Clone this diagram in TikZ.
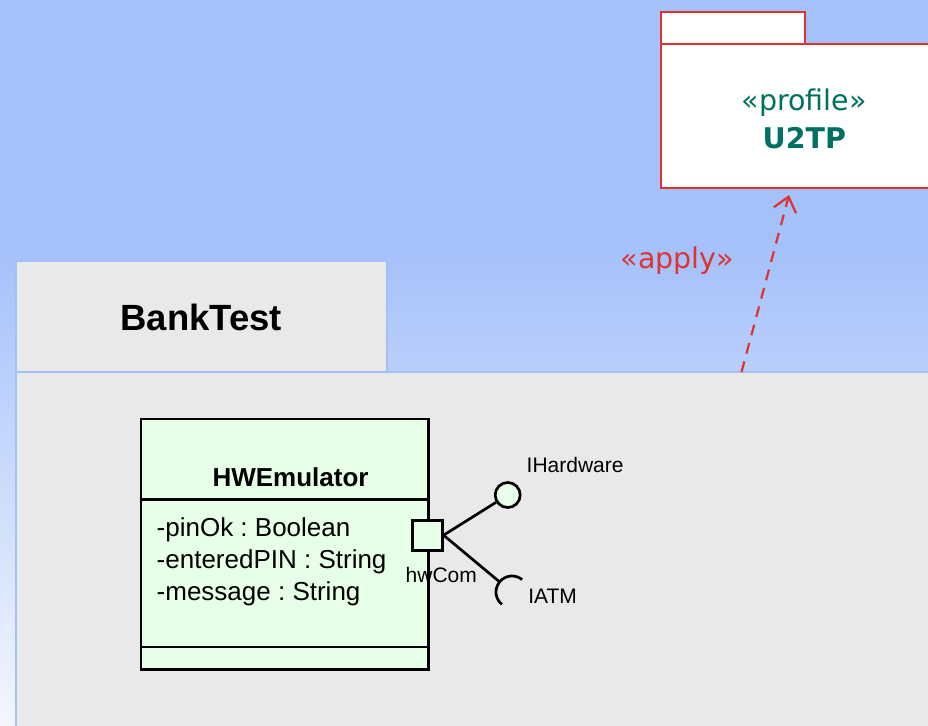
\documentclass[tikz,border=0pt]{standalone}
\usepackage{fontspec}
\setmainfont{Liberation Sans}
\newfontfamily\profilefont{DejaVu Sans}
\usetikzlibrary{arrows.meta}
\frenchspacing

\definecolor{bgtop}{RGB}{165,193,250}
\definecolor{bgbot}{RGB}{243,246,255}
\definecolor{pkggray}{RGB}{233,233,233}
\definecolor{pkgedge}{RGB}{163,192,248}
\definecolor{classgreen}{RGB}{230,255,230}
\definecolor{profred}{RGB}{221,51,51}
\definecolor{profteal}{RGB}{0,112,96}

% the path's box maps onto 25bp..75bp of the shading
\pgfdeclareverticalshading{bgshade}{100bp}{color(0bp)=(bgbot); color(25bp)=(bgbot); color(58bp)=(bgtop); color(100bp)=(bgtop)}

\tikzset{
  pkgline/.style={draw=pkgedge, line width=2pt, fill=pkggray},
  profline/.style={draw=profred, line width=2.3pt, fill=white},
  classline/.style={draw=black, line width=2.7pt},
  classbox/.style={classline, fill=classgreen, rectangle, inner sep=0pt},
  portbox/.style={classline, fill=classgreen, rectangle, inner sep=0pt, minimum size=30pt},
  ballnode/.style={classline, fill=classgreen, circle, inner sep=0pt, minimum size=25pt},
  wire/.style={draw=black, line width=2.7pt},
  txt/.style={inner sep=0pt, outer sep=0pt},
  umlsmall/.style={txt, font=\fontsize{21}{25}\selectfont},
  umlattr/.style={txt, font=\fontsize{26}{32}\selectfont, anchor=base west},
  proftext/.style={txt, anchor=base, font=\profilefont\fontsize{28.5}{34}\selectfont},
  applyline/.style={draw=profred, line width=2.2pt, dash pattern=on 11pt off 8pt,
    -{Straight Barb[length=14pt, width=23pt, line width=2.2pt]}},
}

\begin{document}
\begin{tikzpicture}[x=1pt, y=-1pt]
  \useasboundingbox (0,0) rectangle (928,725);
  \clip (0,0) rectangle (928,725);

  % backdrop
  \shade[shading=bgshade] (0,0) rectangle (928,725);

  % profile package U2TP
  \draw[profline] (660.7,12.3) rectangle (804.7,43.7);
  \node[profline, rectangle, inner sep=0pt, minimum width=290pt, minimum height=144.6pt]
    (u2tp) at (805.7,116) {};
  \node[proftext, text=profteal] (u2tpstereo) at (804.2,110) {«profile»};
  \node[proftext, text=profteal, font=\profilefont\bfseries\fontsize{28.5}{34}\selectfont]
    (u2tpname) at (804.3,148.3) {U2TP};

  % package BankTest
  \node[pkgline, rectangle, inner sep=0pt, minimum width=940pt, minimum height=380pt]
    (bankbody) at (486,562) {};
  \node[pkgline, rectangle, inner sep=0pt, minimum width=370.7pt, minimum height=110.7pt]
    (banktab) at (201.3,316.7) {};
  \node[txt, anchor=base, font=\bfseries\fontsize{36.5}{42}\selectfont]
    (bankname) at (201.3,330) {BankTest};

  % apply dependency
  \coordinate (applytail) at (741.5,372);
  \coordinate (applytip) at (789,195);
  \draw[applyline] (applytail) -- (applytip);
  \node[txt, anchor=base, text=profred, font=\profilefont\fontsize{28.5}{34}\selectfont]
    (applylabel) at (677,268.5) {«apply»};

  % class HWEmulator
  \node[classbox, minimum width=287.7pt, minimum height=250.3pt] (hwe) at (284.9,544.2) {};
  \draw[classline] (hwe.west |- 0,499.7) -- (hwe.east |- 0,499.7);
  \draw[classline] (hwe.west |- 0,647) -- (hwe.east |- 0,647);
  \node[txt, anchor=base, font=\bfseries\fontsize{26}{32}\selectfont]
    (hwename) at (290.5,486) {HWEmulator};
  \node[umlattr] (attr1) at (156.7,536.7) {-pinOk : Boolean};
  \node[umlattr] (attr2) at (156.7,568.7) {-enteredPIN : String};
  \node[umlattr] (attr3) at (156.7,600.7) {-message : String};

  % port with provided and required interfaces
  \node[portbox] (port) at (427.2,535.2) {};
  \node[umlsmall, anchor=base] (portname) at (441.3,582.7) {hwCom};

  \node[ballnode] (ihw) at (507.7,495) {};
  \draw[wire] (port.east) -- (ihw);
  \node[umlsmall, anchor=base west] (ihwname) at (526.7,472.7) {IHardware};

  \coordinate (iatm) at (512,592);
  \coordinate (iatmtip) at ([shift={(140.8:16pt)}]iatm);
  \draw[wire] (port.east) -- (iatmtip);
  \draw[wire] ([shift={(230.8:16pt)}]iatm) arc[start angle=230.8, end angle=50.8, radius=16pt];
  \node[umlsmall, anchor=base west] (iatmname) at (528.3,603.3) {IATM};
\end{tikzpicture}
\end{document}
